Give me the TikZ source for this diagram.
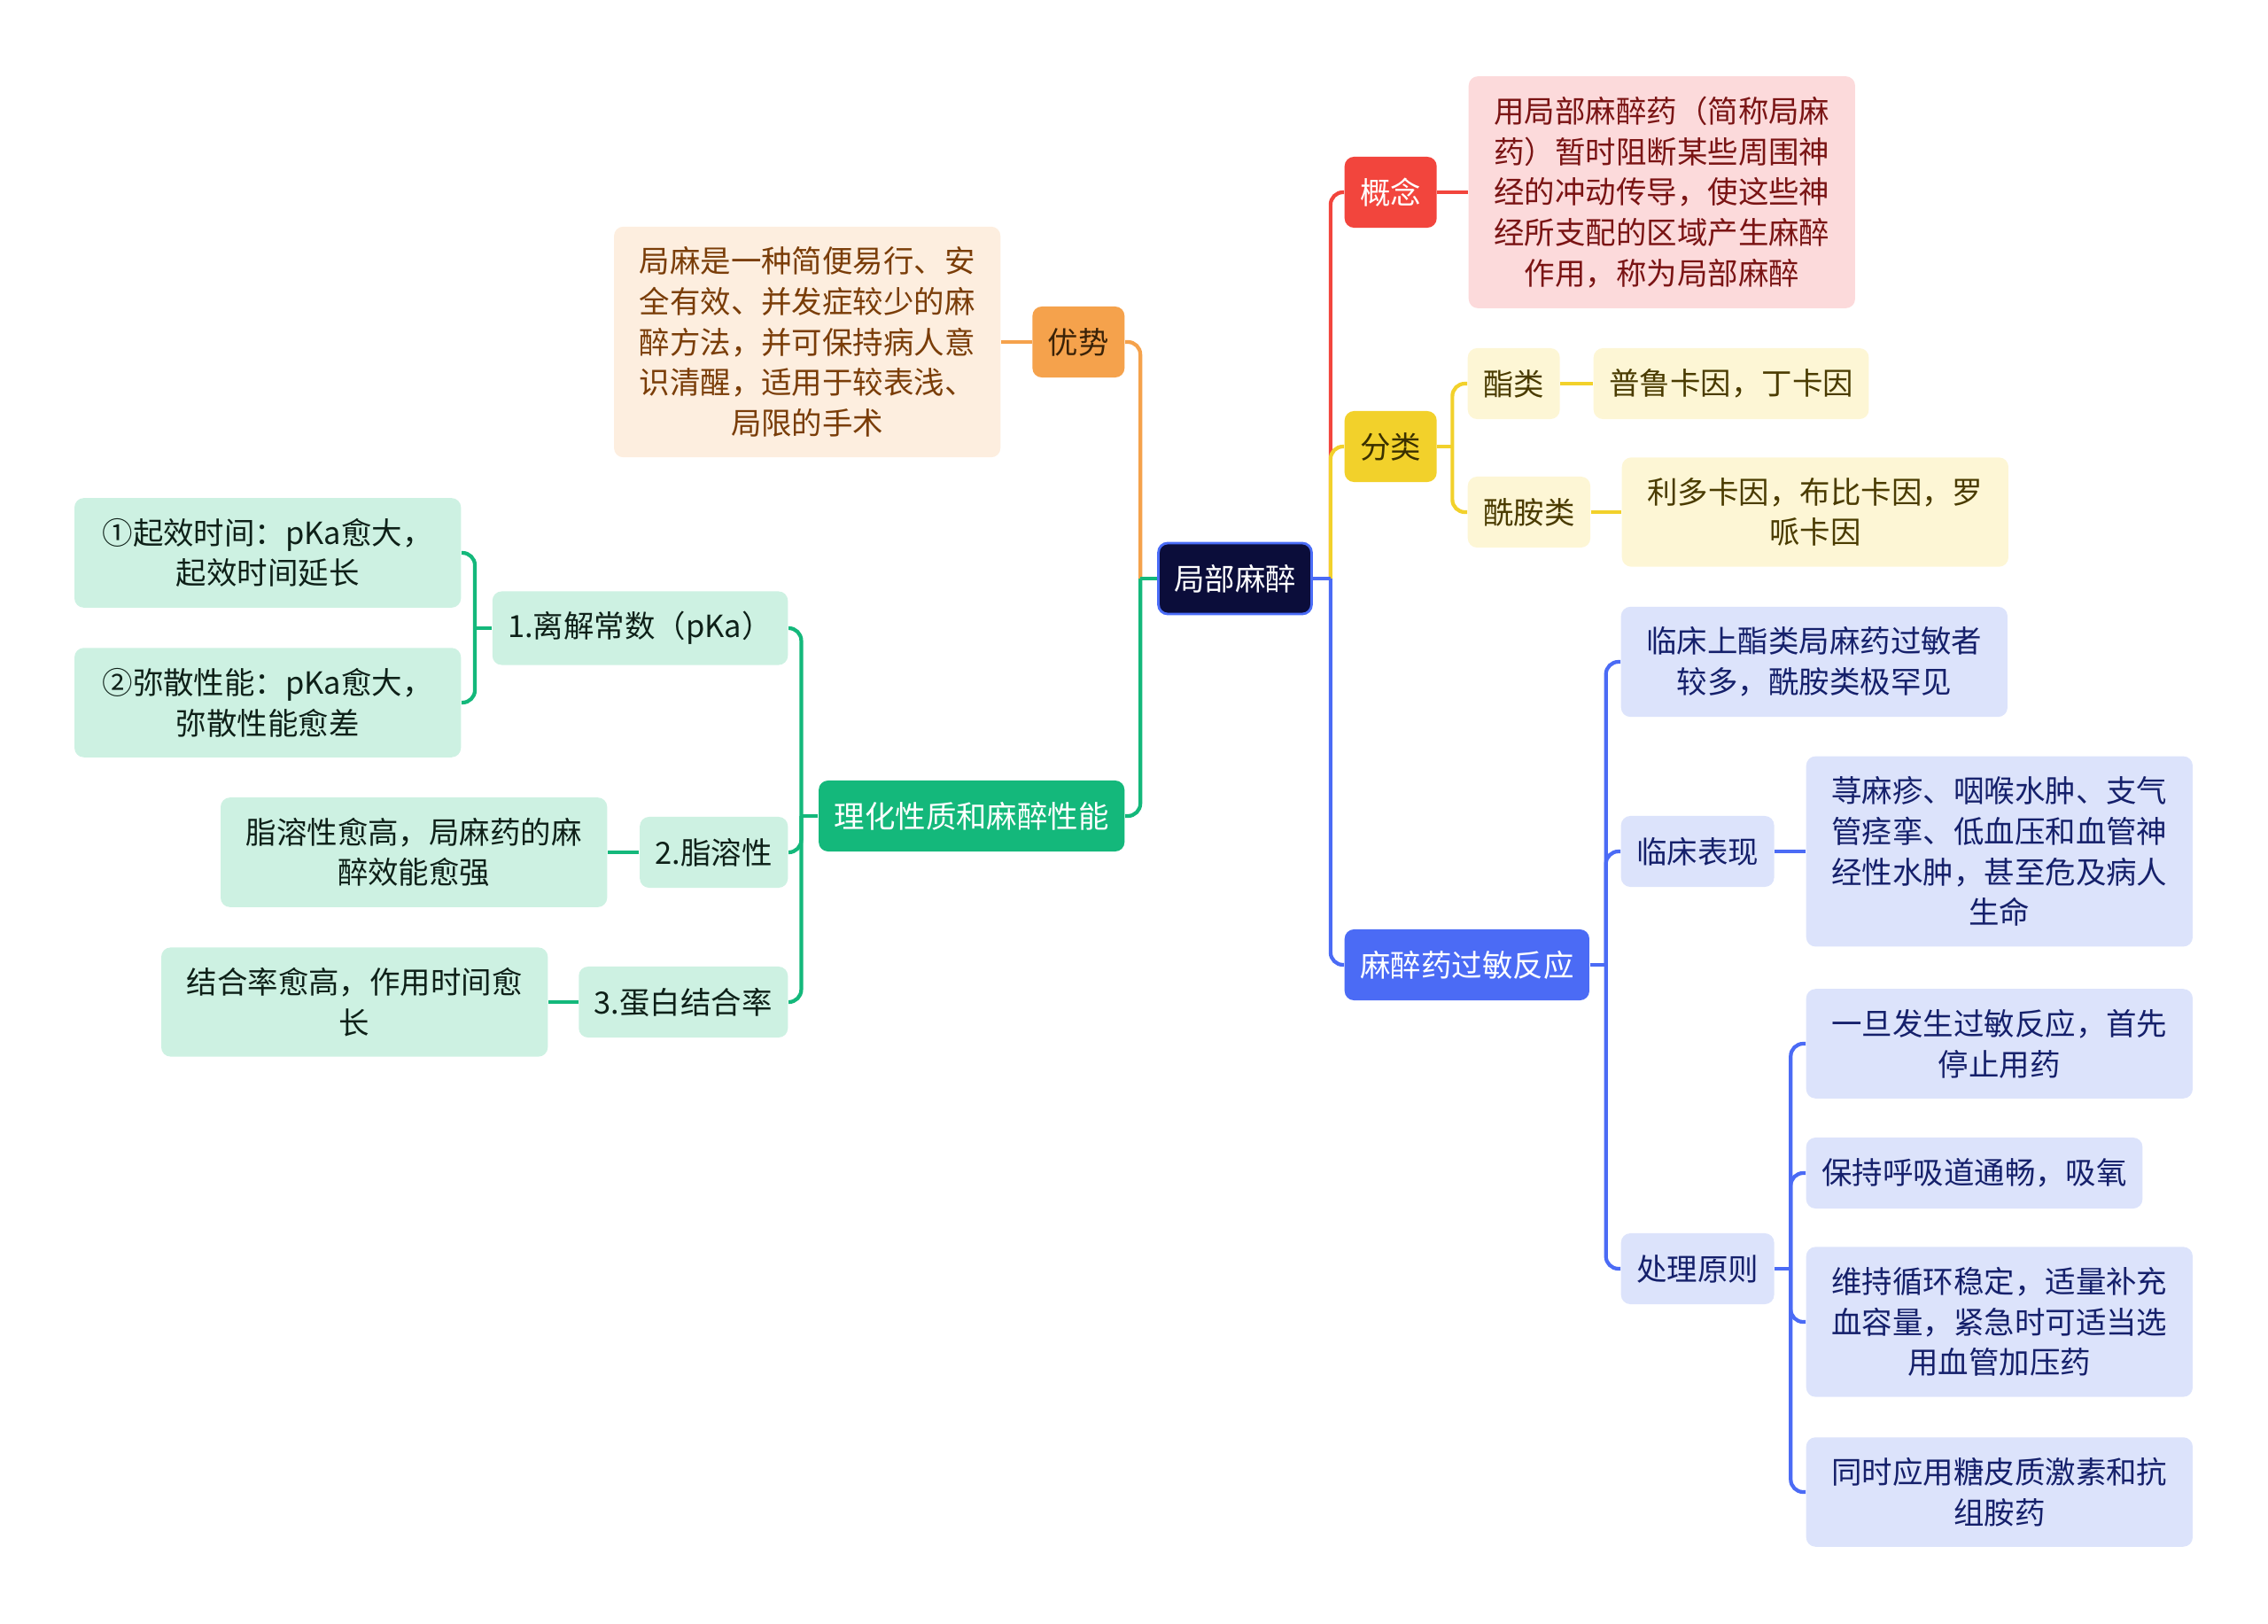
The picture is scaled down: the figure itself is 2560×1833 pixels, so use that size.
\documentclass[tikz,border=0pt]{standalone}
\usepackage{fontspec}
\setmainfont{Noto Sans CJK SC}
\definecolor{rootnavy}{HTML}{0B0D3A}
\definecolor{rootedge}{HTML}{4A6CF7}
\definecolor{conceptred}{HTML}{F2453D}
\definecolor{conceptpale}{HTML}{FCDADB}
\definecolor{concepttext}{HTML}{7A1414}
\definecolor{classyellow}{HTML}{F2D12B}
\definecolor{classpale}{HTML}{FDF6D5}
\definecolor{classdark}{HTML}{3A3000}
\definecolor{classtext}{HTML}{4A3B00}
\definecolor{allergyblue}{HTML}{4B6BF5}
\definecolor{allergypale}{HTML}{DCE3FB}
\definecolor{allergytext}{HTML}{15206B}
\definecolor{meritorange}{HTML}{F5A24C}
\definecolor{meritpale}{HTML}{FDEEDF}
\definecolor{meritdark}{HTML}{3A2208}
\definecolor{merittext}{HTML}{7A3D08}
\definecolor{physgreen}{HTML}{14B87B}
\definecolor{physpale}{HTML}{CDF1E2}
\definecolor{phystext}{HTML}{0E2018}

\begin{document}
\begin{tikzpicture}[x=0.01cm, y=-0.01cm,
    card/.style={rounded corners=3pt, inner xsep=0.175cm, inner ysep=6.5pt,
      minimum height=0.8cm, align=center, font=\fontsize{9.8}{13}\selectfont},
    wide/.style={minimum width=4.36cm},
    rootbox/.style={card, fill=rootnavy, draw=rootedge, line width=0.8pt, text=white},
    redhead/.style={card, fill=conceptred, text=white},
    redleaf/.style={card, fill=conceptpale, text=concepttext},
    yellowhead/.style={card, fill=classyellow, text=classdark},
    yellowleaf/.style={card, fill=classpale, text=classtext},
    bluehead/.style={card, fill=allergyblue, text=white},
    blueleaf/.style={card, fill=allergypale, text=allergytext},
    orangehead/.style={card, fill=meritorange, text=meritdark},
    orangeleaf/.style={card, fill=meritpale, text=merittext},
    greenhead/.style={card, fill=physgreen, text=white},
    greenleaf/.style={card, fill=physpale, text=phystext},
    link/.style={line width=1.2pt, rounded corners=4pt}]

  \useasboundingbox (0,0) rectangle (2560,1833);

  % centre
  \node[rootbox] (root) at (1394,653) {局部麻醉};

  % right: concept
  \node[redhead, anchor=west] (concept) at (1517,217) {概念};
  \node[redleaf, wide, anchor=west] (conceptdef) at (1657,217)
    {用局部麻醉药（简称局麻\\药）暂时阻断某些周围神\\经的冲动传导，使这些神\\经所支配的区域产生麻醉\\作用，称为局部麻醉};

  % right: classes
  \node[yellowhead, anchor=west] (classes) at (1517,504) {分类};
  \node[yellowleaf, anchor=west] (ester) at (1656,433) {酯类};
  \node[yellowleaf, anchor=west] (esterdrugs) at (1798,433) {普鲁卡因，丁卡因};
  \node[yellowleaf, anchor=west] (amide) at (1656,578) {酰胺类};
  \node[yellowleaf, wide, anchor=west] (amidedrugs) at (1830,578) {利多卡因，布比卡因，罗\\哌卡因};

  % right: allergy
  \node[bluehead, anchor=west] (allergy) at (1517,1089) {麻醉药过敏反应};
  \node[blueleaf, wide, anchor=west] (incidence) at (1829,747) {临床上酯类局麻药过敏者\\较多，酰胺类极罕见};
  \node[blueleaf, anchor=west] (signs) at (1829,961) {临床表现};
  \node[blueleaf, wide, anchor=west] (signsdef) at (2038,961)
    {荨麻疹、咽喉水肿、支气\\管痉挛、低血压和血管神\\经性水肿，甚至危及病人\\生命};
  \node[blueleaf, anchor=west] (handling) at (1829,1432) {处理原则};
  \node[blueleaf, wide, anchor=west] (stopdrug) at (2038,1178) {一旦发生过敏反应，首先\\停止用药};
  \node[blueleaf, anchor=west] (airway) at (2038,1324) {保持呼吸道通畅，吸氧};
  \node[blueleaf, wide, anchor=west] (circulation) at (2038,1492)
    {维持循环稳定，适量补充\\血容量，紧急时可适当选\\用血管加压药};
  \node[blueleaf, wide, anchor=west] (steroid) at (2038,1684) {同时应用糖皮质激素和抗\\组胺药};

  % left: merit
  \node[orangehead, anchor=east] (merit) at (1270,386) {优势};
  \node[orangeleaf, wide, anchor=east] (meritdef) at (1130,386)
    {局麻是一种简便易行、安\\全有效、并发症较少的麻\\醉方法，并可保持病人意\\识清醒，适用于较表浅、\\局限的手术};

  % left: physical chemistry
  \node[greenhead, anchor=east] (phys) at (1270,921) {理化性质和麻醉性能};
  \node[greenleaf, anchor=east] (pka) at (890,709) {1.离解常数（pKa）};
  \node[greenleaf, wide, anchor=east] (onset) at (521,624) {①起效时间：pKa愈大，\\起效时间延长};
  \node[greenleaf, wide, anchor=east] (spread) at (521,793) {②弥散性能：pKa愈大，\\弥散性能愈差};
  \node[greenleaf, anchor=east] (lipid) at (890,962) {2.脂溶性};
  \node[greenleaf, wide, anchor=east] (lipiddef) at (686,962) {脂溶性愈高，局麻药的麻\\醉效能愈强};
  \node[greenleaf, anchor=east] (protein) at (890,1131) {3.蛋白结合率};
  \node[greenleaf, wide, anchor=east] (proteindef) at (619,1131) {结合率愈高，作用时间愈\\长};

  % connectors: stub to a fork point, then one elbow per child
  \coordinate (rightfork) at ([xshift=0.2cm]root.east);
  \coordinate (leftfork) at ([xshift=-0.19cm]root.west);

  \draw[link, conceptred] (rightfork) |- (concept.west);
  \draw[link, conceptred] (concept.east) -- (conceptdef.west);

  \draw[link, classyellow] (rightfork) |- (classes.west);
  \draw[link, classyellow] (classes.east) -- ++(17,0) coordinate (classfork);
  \foreach \n in {ester,amide}
    \draw[link, classyellow] (classfork) |- (\n.west);
  \draw[link, classyellow] (ester.east) -- (esterdrugs.west);
  \draw[link, classyellow] (amide.east) -- (amidedrugs.west);

  \draw[link, allergyblue] (root.east) -- (rightfork);
  \draw[link, allergyblue] (rightfork) |- (allergy.west);
  \draw[link, allergyblue] (allergy.east) -- ++(18,0) coordinate (allergyfork);
  \foreach \n in {incidence,signs,handling}
    \draw[link, allergyblue] (allergyfork) |- (\n.west);
  \draw[link, allergyblue] (signs.east) -- (signsdef.west);
  \draw[link, allergyblue] (handling.east) -- ++(18,0) coordinate (handlingfork);
  \foreach \n in {stopdrug,airway,circulation,steroid}
    \draw[link, allergyblue] (handlingfork) |- (\n.west);

  \draw[link, meritorange] (leftfork) |- (merit.east);
  \draw[link, meritorange] (merit.west) -- (meritdef.east);

  \draw[link, physgreen] (root.west) -- (leftfork);
  \draw[link, physgreen] (leftfork) |- (phys.east);
  \draw[link, physgreen] (phys.west) -- ++(-19,0) coordinate (physfork);
  \foreach \n in {pka,lipid,protein}
    \draw[link, physgreen] (physfork) |- (\n.east);
  \draw[link, physgreen] (pka.west) -- ++(-19,0) coordinate (pkafork);
  \foreach \n in {onset,spread}
    \draw[link, physgreen] (pkafork) |- (\n.east);
  \draw[link, physgreen] (lipid.west) -- (lipiddef.east);
  \draw[link, physgreen] (protein.west) -- (proteindef.east);
\end{tikzpicture}
\end{document}
